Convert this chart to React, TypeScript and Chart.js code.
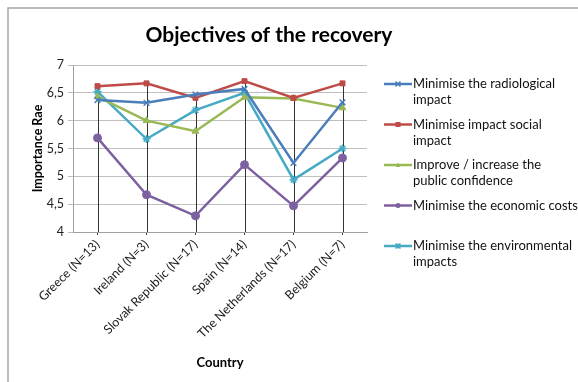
import React, { useEffect, useRef } from "react";
import { Chart, registerables } from "chart.js";
Chart.register(...registerables);

const countries = [
  "Greece (N=13)",
  "Ireland (N=3)",
  "Slovak Republic (N=17)",
  "Spain (N=14)",
  "The Netherlands (N=17)",
  "Belgium (N=7)",
];
const radiological = [6.37, 6.32, 6.47, 6.57, 5.24, 6.33];
const social = [6.62, 6.67, 6.41, 6.71, 6.41, 6.67];
const confidence = [6.43, 6.0, 5.81, 6.42, 6.4, 6.23];
const economic = [5.69, 4.67, 4.29, 5.21, 4.47, 5.33];
const environmental = [6.52, 5.67, 6.19, 6.5, 4.94, 5.5];
const legendLines = [
  ["Minimise the radiological", "impact"],
  ["Minimise impact social", "impact"],
  ["Improve / increase the", "public confidence"],
  ["Minimise the economic costs"],
  ["Minimise the environmental", "impacts"],
];
const seriesNames = legendLines.map((l) => l.join(" "));
const seriesValues = [radiological, social, confidence, economic, environmental];
const seriesColors = ["#4A7EBB", "#BE4B48", "#98B954", "#7D60A0", "#46AAC5"];
const seriesMarkers = ["crossRot", "rect", "triangle", "circle", "star"];
const yMin = 4;
const yMax = 7;
const yStep = 0.5;
const titleText = "Objectives of the recovery";
const xTitle = "Country";
const yTitle = "Importance Rae";

const FONT = "Lato, 'Open Sans', sans-serif";

function drawMarker(ctx: CanvasRenderingContext2D, style: string, x: number, y: number, r: number, color: string) {
  ctx.save();
  ctx.fillStyle = color;
  ctx.strokeStyle = color;
  ctx.lineWidth = 1.5;
  ctx.beginPath();
  if (style === "rect") {
    ctx.fillRect(x - r, y - r, 2 * r, 2 * r);
  } else if (style === "circle") {
    ctx.arc(x, y, r, 0, Math.PI * 2);
    ctx.fill();
  } else if (style === "triangle") {
    ctx.moveTo(x, y - r);
    ctx.lineTo(x + r, y + r * 0.8);
    ctx.lineTo(x - r, y + r * 0.8);
    ctx.closePath();
    ctx.fill();
  } else if (style === "crossRot") {
    ctx.moveTo(x - r, y - r);
    ctx.lineTo(x + r, y + r);
    ctx.moveTo(x + r, y - r);
    ctx.lineTo(x - r, y + r);
    ctx.stroke();
  } else {
    ctx.moveTo(x - r, y - r);
    ctx.lineTo(x + r, y + r);
    ctx.moveTo(x + r, y - r);
    ctx.lineTo(x - r, y + r);
    ctx.moveTo(x, y - r);
    ctx.lineTo(x, y + r);
    ctx.stroke();
  }
  ctx.restore();
}

const decorPlugin = {
  id: "decor",
  beforeDraw(chart: any) {
    const ctx = chart.ctx as CanvasRenderingContext2D;
    ctx.save();
    ctx.strokeStyle = "#a6a6a6";
    ctx.lineWidth = 1.5;
    ctx.beginPath();
    ctx.moveTo(8, 382);
    ctx.lineTo(8, 8);
    ctx.lineTo(578, 8);
    ctx.stroke();
    ctx.fillStyle = "#000";
    ctx.font = `bold 21px ${FONT}`;
    ctx.textAlign = "center";
    ctx.textBaseline = "middle";
    ctx.fillText(titleText, 269, 35);
    ctx.restore();
  },
  beforeDatasetsDraw(chart: any) {
    const ctx = chart.ctx as CanvasRenderingContext2D;
    const area = chart.chartArea;
    const n = chart.data.labels.length;
    ctx.save();
    ctx.strokeStyle = "#333333";
    ctx.lineWidth = 1;
    for (let j = 0; j < n; j++) {
      let minY = Infinity;
      let x = 0;
      chart.data.datasets.forEach((_: any, i: number) => {
        const el = chart.getDatasetMeta(i).data[j];
        if (el && el.y < minY) {
          minY = el.y;
          x = el.x;
        }
      });
      ctx.beginPath();
      ctx.moveTo(Math.round(x) + 0.5, minY);
      ctx.lineTo(Math.round(x) + 0.5, area.bottom);
      ctx.stroke();
    }
    ctx.restore();
  },
  afterDraw(chart: any) {
    const ctx = chart.ctx as CanvasRenderingContext2D;
    ctx.save();
    ctx.font = `13px ${FONT}`;
    ctx.textBaseline = "middle";
    ctx.textAlign = "left";
    chart.data.datasets.forEach((ds: any, i: number) => {
      const y0 = 84 + 40.5 * i;
      ctx.strokeStyle = ds.borderColor;
      ctx.lineWidth = 2.5;
      ctx.beginPath();
      ctx.moveTo(384, y0);
      ctx.lineTo(412, y0);
      ctx.stroke();
      drawMarker(ctx, ds.pointStyle, 398, y0, 2.5, ds.borderColor);
      ctx.fillStyle = "#111";
      legendLines[i].forEach((l, k) => ctx.fillText(l, 413, y0 + k * 16));
    });
    ctx.restore();
  },
};

export default function App() {
  const ref = useRef<HTMLCanvasElement | null>(null);
  useEffect(() => {
    if (!ref.current) return;
    const chart = new Chart(ref.current, {
      type: "line",
      data: {
        labels: countries,
        datasets: seriesValues.map((vals, i) => ({
          label: seriesNames[i],
          data: vals,
          borderColor: seriesColors[i],
          backgroundColor: seriesColors[i],
          pointBackgroundColor: seriesColors[i],
          pointBorderColor: seriesColors[i],
          pointStyle: seriesMarkers[i] as any,
          pointRadius: seriesMarkers[i] === "rect" ? 3.5 : 4,
          pointBorderWidth: seriesMarkers[i] === "crossRot" || seriesMarkers[i] === "star" ? 1.5 : 1,
          borderWidth: 2.5,
          tension: 0,
          fill: false,
        })),
      },
      options: {
        responsive: false,
        animation: false,
        layout: { padding: { left: 26, right: 211, top: 65, bottom: 7 } },
        plugins: {
          legend: { display: false },
          title: { display: false },
          tooltip: { enabled: false },
        },
        scales: {
          x: {
            offset: true,
            grid: { display: true, drawOnChartArea: false, drawTicks: true, tickLength: 3, color: "#404040" },
            border: { color: "#a0a0a0" },
            ticks: { maxRotation: 45, minRotation: 45, color: "#222", font: { family: FONT, size: 12.5 }, padding: 2 },
            title: { display: true, text: xTitle, color: "#000", font: { family: FONT, size: 13, weight: "bold" } },
            afterFit: (s: any) => {
              s.height = 382 - 7 - 232;
            },
          },
          y: {
            min: yMin,
            max: yMax,
            ticks: {
              stepSize: yStep,
              color: "#222",
              font: { family: FONT, size: 12.5 },
              padding: 4,
              callback: (v: any) => String(v).replace(".", ","),
            },
            grid: { color: "#bfbfbf", tickLength: 5 },
            border: { color: "#a0a0a0" },
            title: { display: true, text: yTitle, color: "#000", font: { family: FONT, size: 12.5, weight: "bold" } },
            afterFit: (s: any) => {
              s.width = 73 - 26;
            },
          },
        },
      },
      plugins: [decorPlugin],
    });
    return () => chart.destroy();
  }, []);
  return (
    <div style={{ position: "fixed", left: 0, top: 0, width: 578, height: 382, background: "#fff" }}>
      <canvas ref={ref} width={578} height={382} style={{ width: 578, height: 382, display: "block" }} />
    </div>
  );
}
